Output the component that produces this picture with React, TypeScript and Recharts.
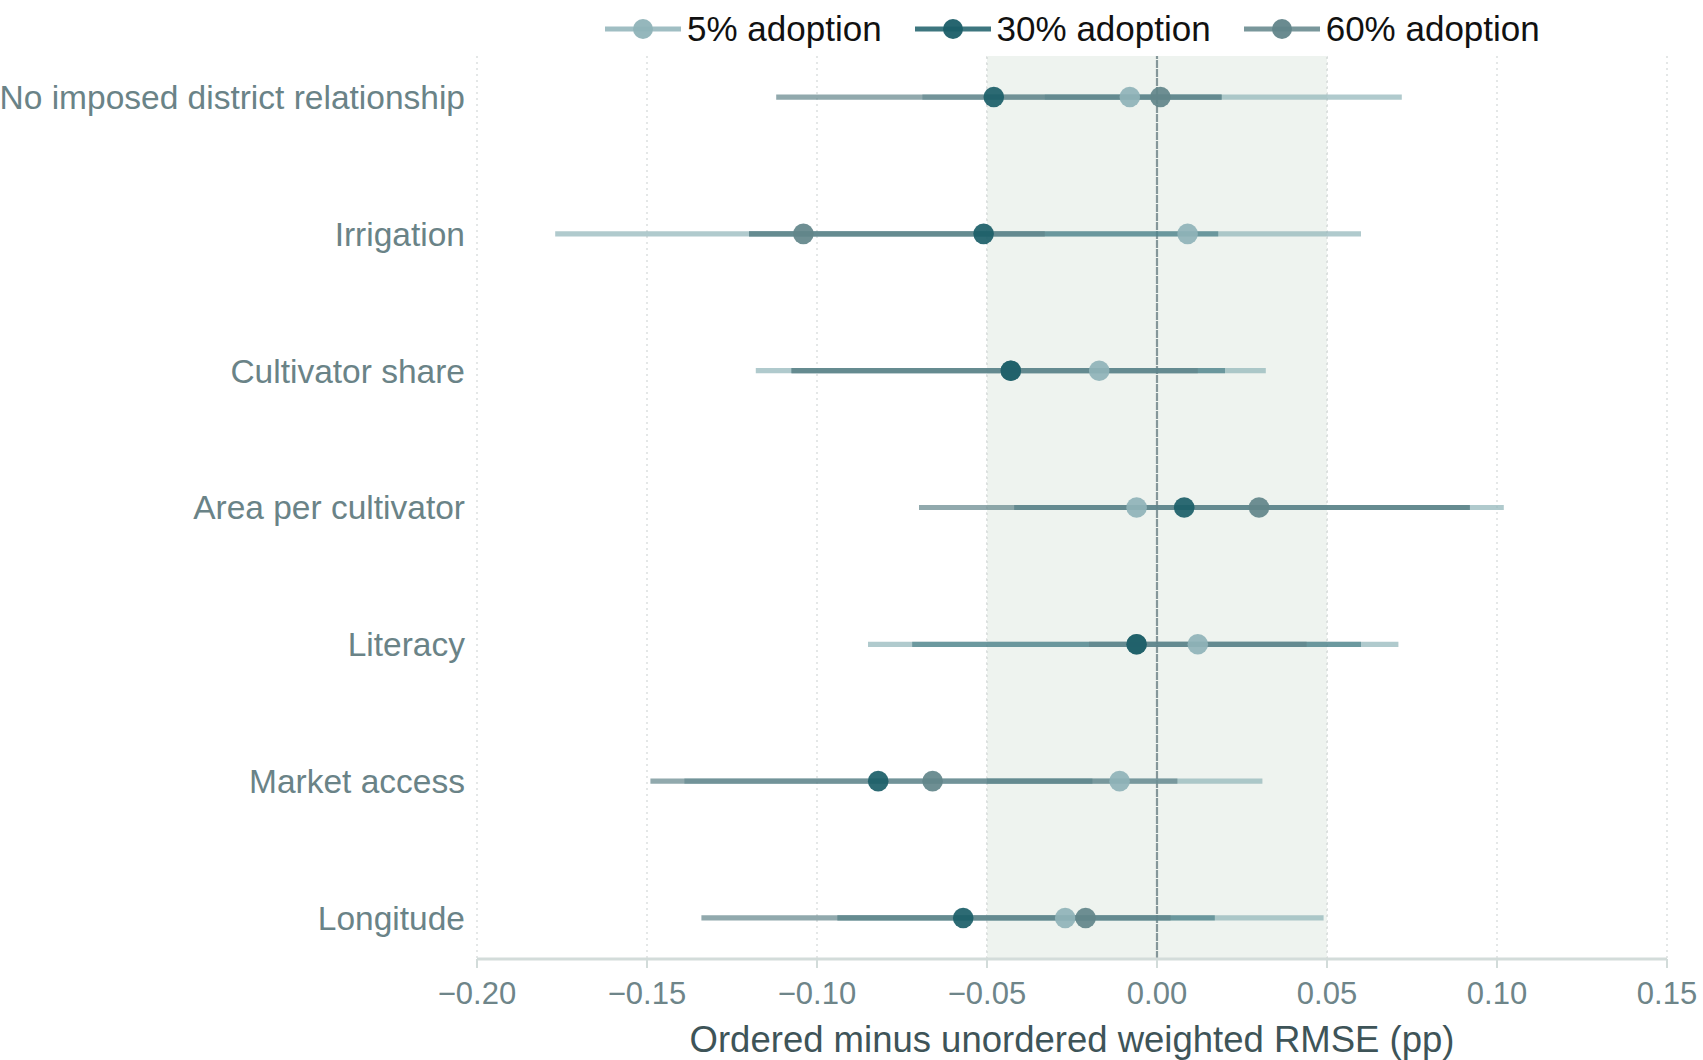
import React from "react";
import {
  ScatterChart,
  Scatter,
  ErrorBar,
  XAxis,
  YAxis,
  CartesianGrid,
  ReferenceArea,
  ReferenceLine,
} from "recharts";

const categories = [
  "No imposed district relationship",
  "Irrigation",
  "Cultivator share",
  "Area per cultivator",
  "Literacy",
  "Market access",
  "Longitude",
];

// point estimates and interval ends, one entry per category
const est5 = [-0.008, 0.009, -0.017, -0.006, 0.012, -0.011, -0.027];
const lo5 = [-0.033, -0.177, -0.118, -0.042, -0.085, -0.05, -0.094];
const hi5 = [0.072, 0.06, 0.032, 0.102, 0.071, 0.031, 0.049];

const est30 = [-0.048, -0.051, -0.043, 0.008, -0.006, -0.082, -0.057];
const lo30 = [-0.069, -0.12, -0.1075, -0.042, -0.072, -0.139, -0.094];
const hi30 = [0.019, 0.018, 0.02, 0.092, 0.06, -0.019, 0.017];

const est60 = [0.001, -0.104, -0.043, 0.03, -0.006, -0.066, -0.021];
const lo60 = [-0.112, -0.12, -0.1075, -0.07, -0.02, -0.149, -0.134];
const hi60 = [0.019, -0.033, 0.012, 0.092, 0.044, 0.006, 0.004];

const xTicks = [-0.2, -0.15, -0.1, -0.05, 0, 0.05, 0.1, 0.15];
const yTicks = [0, 1, 2, 3, 4, 5, 6];

const C5 = "#8fb3b8";
const C30 = "#1b5e68";
const C60 = "#62858a";
const FONT = "'Liberation Sans', Arial, sans-serif";

const toRows = (est: number[], lo: number[], hi: number[]) =>
  categories.map((_, i) => ({
    y: i,
    x: est[i],
    err: [est[i] - lo[i], hi[i] - est[i]],
  }));

const rows5 = toRows(est5, lo5, hi5);
const rows30 = toRows(est30, lo30, hi30);
const rows60 = toRows(est60, lo60, hi60);

const fmt = (v: number) =>
  v < -1e-9 ? "\u2212" + Math.abs(v).toFixed(2) : Math.abs(v).toFixed(2);

const dot = (color: string) => (p: any) =>
  <circle cx={p.cx} cy={p.cy} r={10.3} fill={color} fillOpacity={0.92} />;

const noShape = () => <g />;

const legendItems = [
  { label: "5% adoption", color: C5 },
  { label: "30% adoption", color: C30 },
  { label: "60% adoption", color: C60 },
];

export default function App() {
  return (
    <div style={{ position: "absolute", left: 0, top: 0, width: 1703, height: 1060, background: "#fff", fontFamily: FONT }}>
      <div
        style={{
          position: "absolute",
          left: 605,
          top: 11,
          height: 36,
          display: "flex",
          alignItems: "center",
          gap: 33,
          zIndex: 2,
        }}
      >
        {legendItems.map((it) => (
          <div key={it.label} style={{ display: "flex", alignItems: "center", gap: 6 }}>
            <svg width={76} height={24}>
              <line x1={0} x2={76} y1={12} y2={12} stroke={it.color} strokeWidth={5} strokeOpacity={0.85} />
              <circle cx={38} cy={12} r={10} fill={it.color} fillOpacity={0.95} />
            </svg>
            <span style={{ fontSize: 35, color: "#111", lineHeight: "36px" }}>{it.label}</span>
          </div>
        ))}
      </div>
      <ScatterChart width={1703} height={1060} margin={{ top: 56, right: 36, bottom: 0, left: 0 }}>
        <ReferenceArea x1={-0.05} x2={0.05} fill="#eef3ef" fillOpacity={1} stroke="none" />
        <CartesianGrid horizontal={false} stroke="#dcdfdf" strokeDasharray="2 4" strokeWidth={1.5} />
        <ReferenceLine x={-0.05} stroke="#d6dcda" strokeDasharray="2 4" strokeWidth={1.5} />
        <ReferenceLine x={0.05} stroke="#d6dcda" strokeDasharray="2 4" strokeWidth={1.5} />
        <ReferenceLine x={0} stroke="#85979a" strokeWidth={2.2} strokeDasharray="8 1" />
        <XAxis
          type="number"
          dataKey="x"
          domain={[-0.2, 0.15]}
          ticks={xTicks}
          interval={0}
          tickFormatter={fmt}
          height={101}
          tickSize={9}
          tickMargin={14}
          axisLine={{ stroke: "#d3dcda", strokeWidth: 3 }}
          tickLine={{ stroke: "#d3dcda", strokeWidth: 2 }}
          tick={{ fill: "#6e8589", fontSize: 31, fontFamily: FONT }}
          label={{
            value: "Ordered minus unordered weighted RMSE (pp)",
            position: "insideBottom",
            offset: 8,
            fill: "#3e5458",
            fontSize: 36.5,
            fontFamily: FONT,
          }}
        />
        <YAxis
          type="number"
          dataKey="y"
          domain={[-0.3, 6.3]}
          reversed
          ticks={yTicks}
          interval={0}
          width={477}
          axisLine={false}
          tickLine={false}
          tickMargin={6}
          tickFormatter={(v: number) => categories[v] ?? ""}
          tick={{ fill: "#6a8387", fontSize: 33.5, fontFamily: FONT }}
        />
        <Scatter data={rows5} shape={noShape} isAnimationActive={false} legendType="none">
          <ErrorBar dataKey="err" direction="x" width={0} stroke={C5} strokeWidth={5.2} strokeOpacity={0.7} isAnimationActive={false} />
        </Scatter>
        <Scatter data={rows30} shape={noShape} isAnimationActive={false} legendType="none">
          <ErrorBar dataKey="err" direction="x" width={0} stroke={C30} strokeWidth={5.2} strokeOpacity={0.45} isAnimationActive={false} />
        </Scatter>
        <Scatter data={rows60} shape={noShape} isAnimationActive={false} legendType="none">
          <ErrorBar dataKey="err" direction="x" width={0} stroke={C60} strokeWidth={5.2} strokeOpacity={0.7} isAnimationActive={false} />
        </Scatter>
        <Scatter data={rows5} shape={dot(C5)} isAnimationActive={false} />
        <Scatter data={rows60} shape={dot(C60)} isAnimationActive={false} />
        <Scatter data={rows30} shape={dot(C30)} isAnimationActive={false} />
      </ScatterChart>
    </div>
  );
}
